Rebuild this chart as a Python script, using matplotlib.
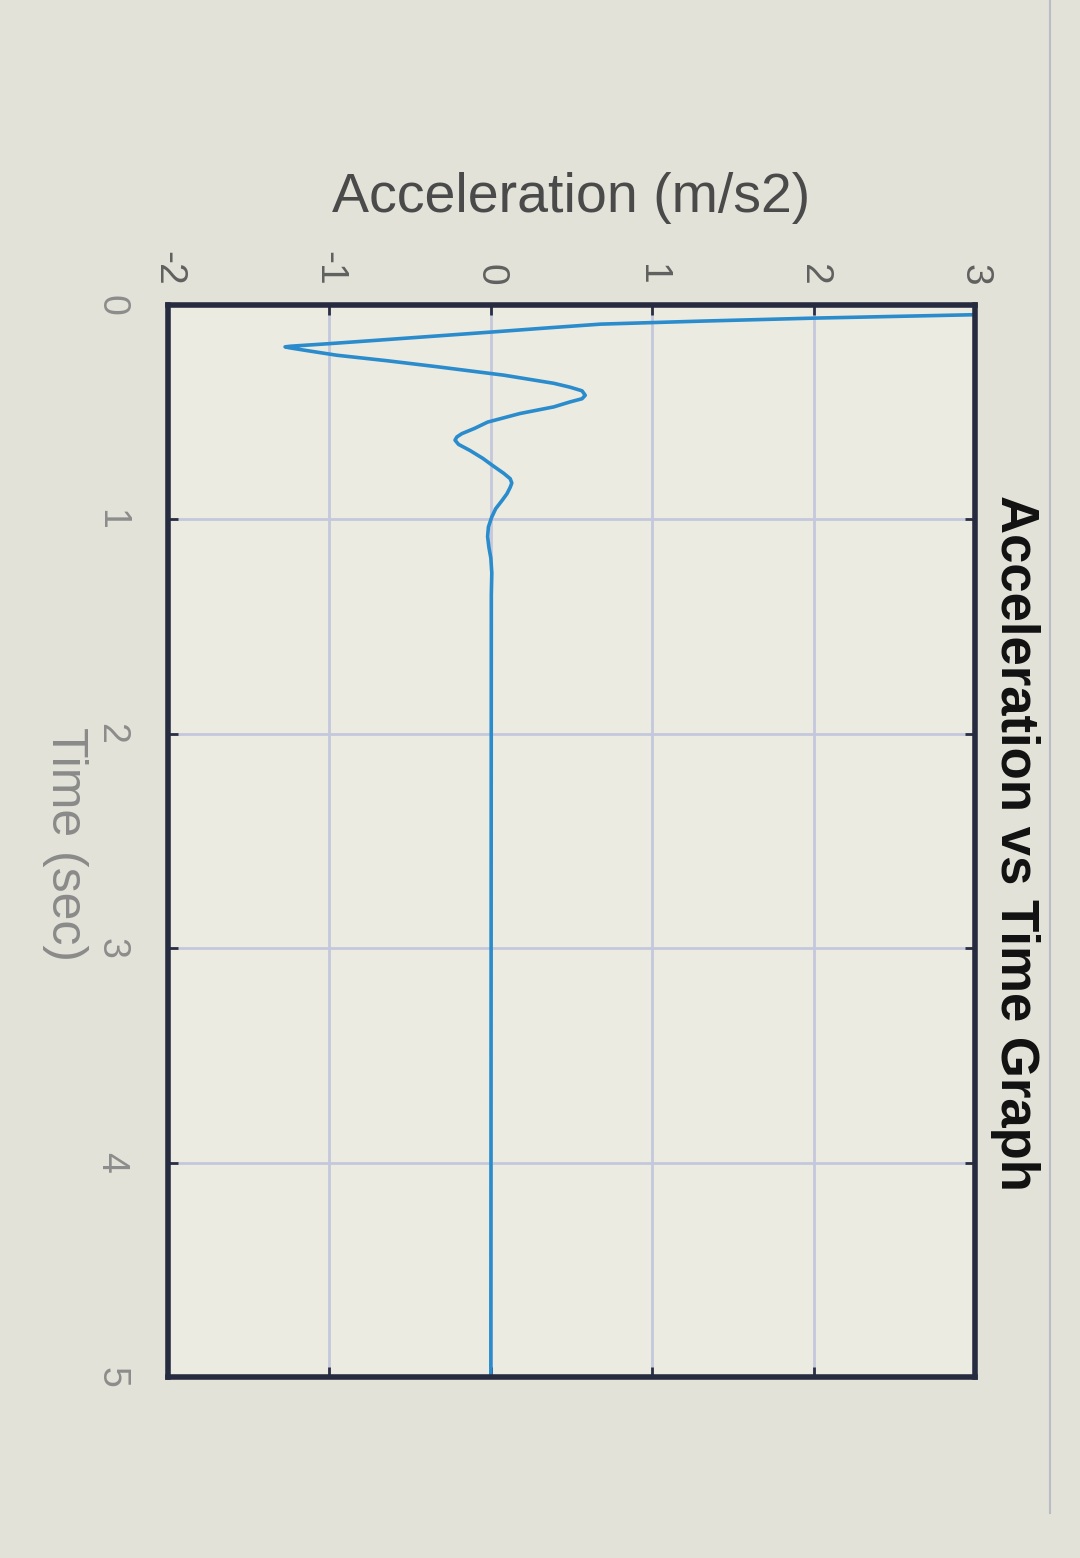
import numpy as np
import matplotlib
matplotlib.use("Agg")
import matplotlib.pyplot as plt
from matplotlib.lines import Line2D

plt.rcParams['font.family'] = ['Liberation Sans', 'DejaVu Sans']
plt.rcParams['axes.unicode_minus'] = False

time_s = [0.045, 0.053, 0.061, 0.075, 0.089, 0.105, 0.125, 0.145, 0.165, 0.180,
          0.188, 0.192, 0.195, 0.199, 0.210, 0.234, 0.260, 0.288, 0.327, 0.365,
          0.383, 0.400, 0.421, 0.437, 0.452, 0.475, 0.506, 0.546, 0.575, 0.600,
          0.615, 0.630, 0.650, 0.678, 0.715, 0.748, 0.785, 0.810, 0.830, 0.850,
          0.880, 0.911, 0.950, 0.990, 1.035, 1.080, 1.130, 1.180, 1.250, 1.350,
          5.000]
accel = [3.00, 2.50, 2.00, 1.30, 0.68, 0.38, 0.02, -0.35, -0.72, -1.00,
         -1.16, -1.24, -1.275, -1.25, -1.16, -0.955, -0.64, -0.33, 0.08, 0.39,
         0.49, 0.565, 0.585, 0.565, 0.49, 0.39, 0.18, -0.02, -0.10, -0.18,
         -0.21, -0.222, -0.20, -0.13, -0.05, 0.01, 0.08, 0.12, 0.13, 0.12,
         0.10, 0.07, 0.03, 0.005, -0.015, -0.02, -0.012, 0.0, 0.006, 0.003,
         0.00]

accel_ticks = [-2, -1, 0, 1, 2, 3]
time_ticks = [0, 1, 2, 3, 4, 5]

fig = plt.figure(figsize=(10.8, 15.58), dpi=100, facecolor='#e2e2d8')
ax = fig.add_axes([0.1556, 0.1162, 0.7472, 0.688])
ax.set_facecolor('#ebebe1')

ax.plot(accel, time_s, color='#2a8ccc', lw=2.6, solid_joinstyle='round')

ax.set_xlim(-2, 3)
ax.set_ylim(5, 0)
ax.set_xticks(accel_ticks)
ax.set_yticks(time_ticks)
ax.xaxis.tick_top()
ax.tick_params(axis='both', direction='in', length=7, width=2, color='#2a2f45',
               top=True, bottom=True, left=True, right=True)
ax.tick_params(axis='x', pad=14, labelsize=28, labelcolor='#606060', labelrotation=270)
ax.tick_params(axis='y', pad=28, labelsize=27, labelcolor='#8c8c8c', labelrotation=270)
for lab in ax.get_yticklabels():
    lab.set_va('center')

ax.grid(True, color='#c3c8dc', lw=2)
for s in ax.spines.values():
    s.set_color('#262b40')
    s.set_linewidth(4)

ax.xaxis.set_label_position('top')
ax.set_xlabel('Acceleration (m/s2)', fontsize=40, color='#4a4a4a', labelpad=28)

fig.text(0.060, 0.458, 'Time (sec)', rotation=270, fontsize=36, color='#8a8a8a',
         ha='center', va='center')
fig.text(0.94, 0.459, 'Acceleration vs Time Graph', rotation=270, fontsize=38,
         fontweight='bold', color='#111111', ha='center', va='center')

# edge of the window seen in the photo
fig.add_artist(Line2D([0.972, 0.972], [0.029, 1.0], color='#b9bcc6', lw=1.5))

fig.savefig('out.png', dpi=100, facecolor=fig.get_facecolor())
